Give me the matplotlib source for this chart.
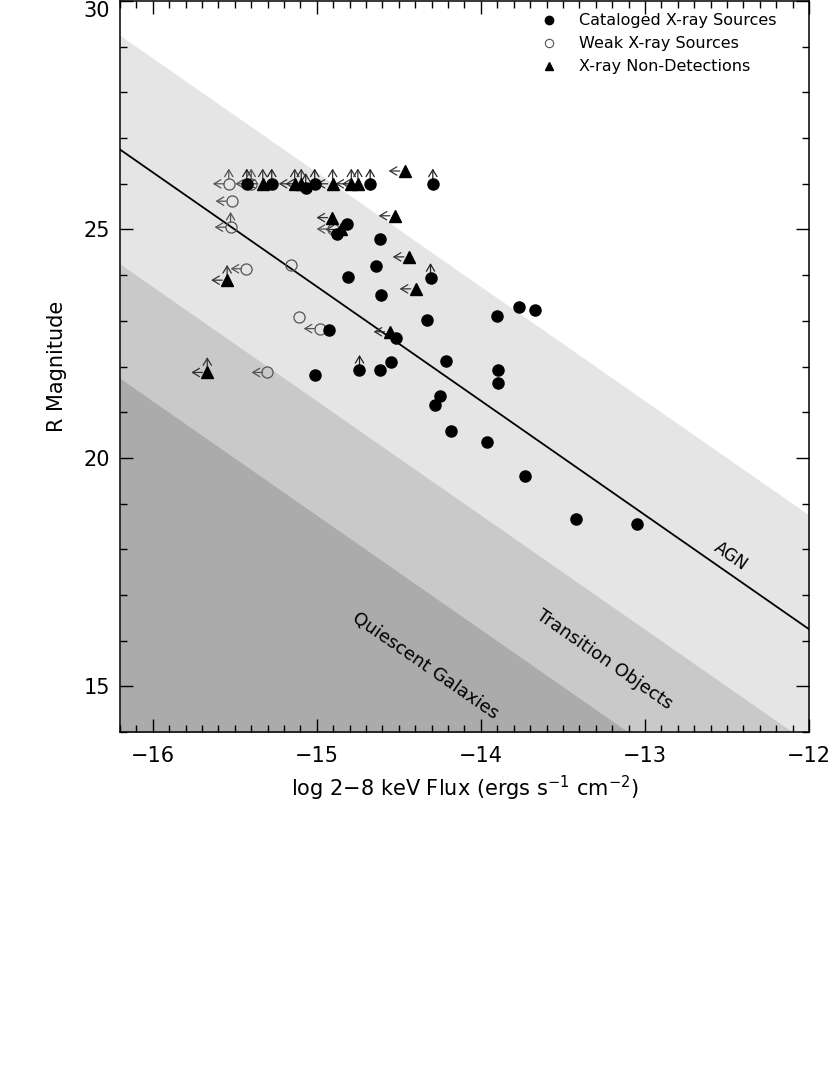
import numpy as np
import matplotlib.pyplot as plt
from matplotlib.lines import Line2D
from matplotlib.ticker import MultipleLocator

# Cataloged X-ray sources (filled circles): log flux, R mag, lower limit on R
cat_x = [-15.427, -15.275, -15.068, -15.013, -14.675, -14.293,
         -14.817, -14.880, -14.618, -14.638, -14.810, -14.307, -14.611,
         -13.765, -13.668, -13.900, -14.331, -14.926, -14.516, -14.550,
         -14.212, -14.618, -14.740, -15.013, -13.897, -13.897, -14.252,
         -14.277, -14.181, -13.964, -13.729, -13.423, -13.047]
cat_y = [26.0, 26.0, 25.9, 26.0, 26.0, 26.0,
         25.11, 24.90, 24.79, 24.19, 23.97, 23.93, 23.57,
         23.30, 23.23, 23.11, 23.02, 22.80, 22.62, 22.09,
         22.12, 21.93, 21.92, 21.82, 21.93, 21.65, 21.36,
         21.15, 20.58, 20.35, 19.61, 18.67, 18.56]
cat_up = [1, 1, 1, 1, 1, 1,
          0, 0, 0, 0, 0, 1, 0,
          0, 0, 0, 0, 0, 0, 0,
          0, 0, 1, 0, 0, 0, 0,
          0, 0, 0, 0, 0, 0]

# Weak X-ray sources (open circles)
weak_x = [-15.537, -15.400, -15.520, -15.526, -15.429, -15.157, -15.110,
          -14.983, -15.301, -14.904]
weak_y = [26.0, 26.0, 25.62, 25.05, 24.14, 24.22, 23.09, 22.83, 21.87, 25.01]
weak_left = [1, 1, 1, 1, 1, 0, 0, 1, 1, 1]
weak_up = [1, 1, 0, 1, 0, 0, 0, 0, 0, 1]

# X-ray non-detections (triangles, flux upper limits)
nd_x = [-15.330, -15.135, -15.095, -14.904, -14.790, -14.750, -14.465,
        -14.905, -14.850, -14.526, -14.440, -14.398, -14.557, -15.547,
        -15.668]
nd_y = [26.0, 26.0, 26.0, 26.0, 26.0, 26.0, 26.28,
        25.26, 25.00, 25.30, 24.40, 23.70, 22.76, 23.89, 21.87]
nd_up = [1, 1, 1, 1, 1, 1, 0,
         0, 0, 0, 0, 0, 0, 1, 1]

# log(fx/fo) values that bound the shaded regions; R = -2.5 (log fx + 5.5 - ratio)
ratio_hi, ratio_agn, ratio_lo, ratio_qg = 1, 0, -1, -2

def rmag(lf, r):
    return -2.5 * (lf + 5.5 - r)

fig = plt.figure(figsize=(8.31, 10.72), dpi=100)
ax = fig.add_axes([0.1444, 0.3172, 0.8291, 0.6818])
ax.set_xlim(-16.2, -12)
ax.set_ylim(14, 30)

xx = np.linspace(-16.2, -12, 50)
ax.fill_between(xx, rmag(xx, ratio_lo), rmag(xx, ratio_hi), color='#e5e5e5', lw=0, zorder=0)
ax.fill_between(xx, rmag(xx, ratio_qg), rmag(xx, ratio_lo), color='#c9c9c9', lw=0, zorder=0)
ax.fill_between(xx, 10, rmag(xx, ratio_qg), color='#ababab', lw=0, zorder=0)
ax.plot(xx, rmag(xx, ratio_agn), color='black', lw=1.3, zorder=1)

ang = -34.8
ax.text(-12.48, 17.85, 'AGN', rotation=ang, ha='center', va='center', fontsize=12)
ax.text(-13.25, 15.58, 'Transition Objects', rotation=ang, ha='center', va='center', fontsize=13)
ax.text(-14.34, 15.45, 'Quiescent Galaxies', rotation=ang, ha='center', va='center', fontsize=13)

astyle = '<-,head_length=0.5,head_width=0.3'

def arrows(x, y, left, up, color):
    for xi, yi, l, u in zip(x, y, left, up):
        if l:
            ax.annotate('', xy=(xi, yi), xytext=(-11.5, 0), textcoords='offset points',
                        arrowprops=dict(arrowstyle=astyle, color=color, lw=0.9,
                                        shrinkA=0, shrinkB=3.5, mutation_scale=10), zorder=2)
        if u:
            ax.annotate('', xy=(xi, yi), xytext=(0, 11), textcoords='offset points',
                        arrowprops=dict(arrowstyle=astyle, color=color, lw=0.9,
                                        shrinkA=0, shrinkB=3.5, mutation_scale=10), zorder=2)

arrows(cat_x, cat_y, [0] * len(cat_x), cat_up, '#222222')
arrows(weak_x, weak_y, weak_left, weak_up, '#555555')
arrows(nd_x, nd_y, [1] * len(nd_x), nd_up, '#333333')

ax.plot(weak_x, weak_y, 'o', ms=8, mfc='none', mec='#555555', mew=0.9, ls='none', zorder=3)
ax.plot(cat_x, cat_y, 'o', ms=8, color='black', ls='none', zorder=4)
ax.plot(nd_x, nd_y, '^', ms=8, color='black', ls='none', zorder=4)

handles = [Line2D([], [], marker='o', ls='none', color='black', ms=6),
           Line2D([], [], marker='o', ls='none', mfc='none', mec='#555555', ms=6, mew=0.8),
           Line2D([], [], marker='^', ls='none', color='black', ms=6)]
ax.legend(handles, ['Cataloged X-ray Sources', 'Weak X-ray Sources', 'X-ray Non-Detections'],
          loc='upper left', bbox_to_anchor=(0.585, 1.003), frameon=False, fontsize=11.5,
          handletextpad=1.1, labelspacing=0.5, handlelength=1.5)

ax.xaxis.set_major_locator(MultipleLocator(1))
ax.xaxis.set_minor_locator(MultipleLocator(0.1))
ax.yaxis.set_major_locator(MultipleLocator(5))
ax.yaxis.set_minor_locator(MultipleLocator(1))
ax.tick_params(which='both', direction='in', top=True, right=True, labelsize=15, width=1)
ax.tick_params(which='major', length=9.5)
ax.tick_params(which='minor', length=5)
ax.tick_params(axis='x', pad=10)
ax.tick_params(axis='y', pad=7)
for s in ax.spines.values():
    s.set_linewidth(1.1)

ax.set_xlabel('log 2\u22128 keV Flux (ergs s$^{-1}$ cm$^{-2}$)', fontsize=15, labelpad=6)
ax.set_ylabel('R Magnitude', fontsize=15, labelpad=12)

# keep the top y label inside the figure, as in the reference
fig.canvas.draw()
for lab in ax.get_yticklabels():
    if lab.get_text() == '30':
        lab.set_va('top')

fig.savefig('out.png', dpi=100)
